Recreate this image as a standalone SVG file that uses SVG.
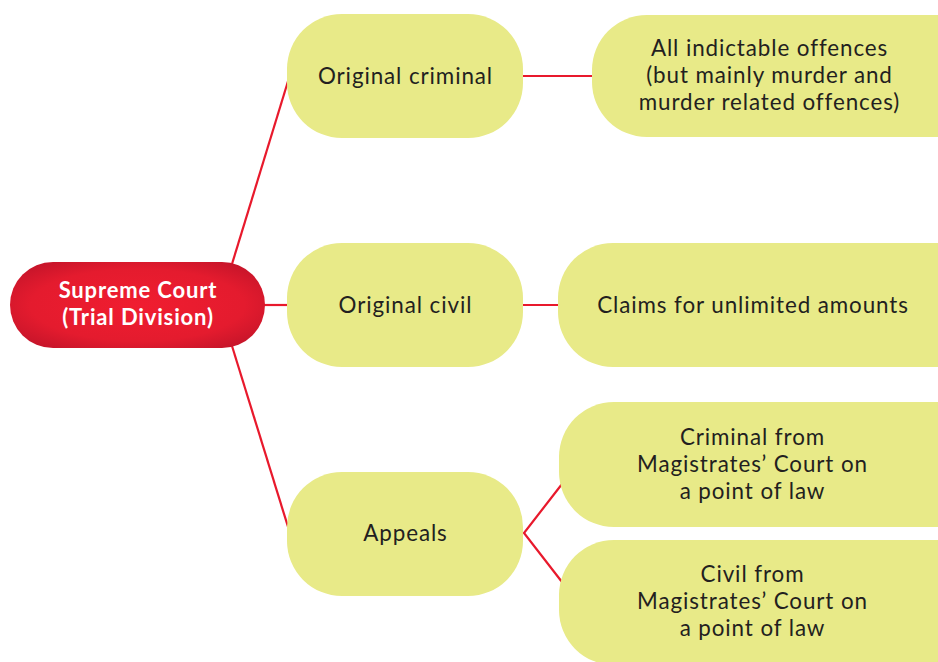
<svg xmlns="http://www.w3.org/2000/svg" width="938" height="662" viewBox="0 0 938 662">
<defs>
<radialGradient id="rg" cx="0.5" cy="0.5" r="0.6">
<stop offset="0" stop-color="#f01d30"/>
<stop offset="0.7" stop-color="#e41b2e"/>
<stop offset="1" stop-color="#c8152a"/>
</radialGradient>
<style>
.n{fill:#e8ea88}
.t{font-family:Lato,"Open Sans",sans-serif;font-size:22.4px;letter-spacing:0.9px;fill:#231f20;text-anchor:middle}
.w{font-family:Lato,"Open Sans",sans-serif;font-size:22px;letter-spacing:0.85px;font-weight:bold;fill:#ffffff;text-anchor:middle}
.c{stroke:#e8192c;stroke-width:2.2;fill:none}
</style>
</defs>
<rect width="938" height="662" fill="#ffffff"/>
<g id="connectors">
<line class="c" x1="232" y1="264" x2="289" y2="78"/>
<line class="c" x1="262" y1="305" x2="290" y2="305"/>
<line class="c" x1="232" y1="346" x2="289" y2="530"/>
<line class="c" x1="520" y1="76" x2="594" y2="76"/>
<line class="c" x1="520" y1="305" x2="560" y2="305"/>
<polyline class="c" points="562,484 524,533 562,582"/>
</g>
<g id="root">
<rect x="10" y="262" width="255" height="86" rx="43" fill="url(#rg)"/>
<text class="w" x="138" y="298">Supreme Court</text>
<text class="w" x="138" y="325">(Trial Division)</text>
</g>
<g id="original-criminal">
<rect class="n" x="287" y="14" width="236" height="124" rx="55"/>
<text class="t" x="405.5" y="84">Original criminal</text>
</g>
<g id="original-civil">
<rect class="n" x="287" y="243" width="236" height="124" rx="55"/>
<text class="t" x="405.5" y="313">Original civil</text>
</g>
<g id="appeals">
<rect class="n" x="287" y="472" width="236" height="124" rx="55"/>
<text class="t" x="405.5" y="541">Appeals</text>
</g>
<g id="indictable">
<rect class="n" x="592" y="15" width="400" height="122" rx="55"/>
<text class="t" x="769.5" y="56">All indictable offences</text>
<text class="t" x="769.5" y="83">(but mainly murder and</text>
<text class="t" x="769.5" y="110">murder related offences)</text>
</g>
<g id="claims">
<rect class="n" x="558" y="243" width="434" height="124" rx="55"/>
<text class="t" x="753" y="313">Claims for unlimited amounts</text>
</g>
<g id="criminal-appeal">
<rect class="n" x="559" y="402" width="433" height="125" rx="55"/>
<text class="t" x="752.5" y="445">Criminal from</text>
<text class="t" x="752.5" y="472">Magistrates’ Court on</text>
<text class="t" x="752.5" y="499">a point of law</text>
</g>
<g id="civil-appeal">
<rect class="n" x="559" y="540" width="433" height="125" rx="55"/>
<text class="t" x="752.5" y="582">Civil from</text>
<text class="t" x="752.5" y="609">Magistrates’ Court on</text>
<text class="t" x="752.5" y="636">a point of law</text>
</g>
</svg>
